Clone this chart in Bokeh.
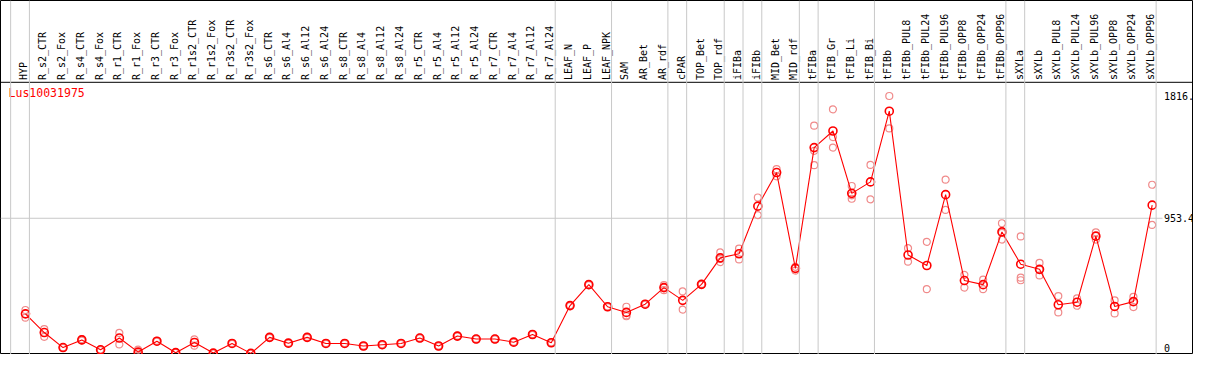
import math
from bokeh.plotting import figure
from bokeh.models import Range1d, Span, ColumnDataSource
from bokeh.core.properties import value
from bokeh.embed import file_html
from bokeh.resources import INLINE

# ---------------- data ----------------
categories = [
    "HYP", "R_s2_CTR", "R_s2_Fox", "R_s4_CTR", "R_s4_Fox", "R_r1_CTR", "R_r1_Fox",
    "R_r3_CTR", "R_r3_Fox", "R_r1s2_CTR", "R_r1s2_Fox", "R_r3s2_CTR", "R_r3s2_Fox",
    "R_s6_CTR", "R_s6_Al4", "R_s6_Al12", "R_s6_Al24", "R_s8_CTR", "R_s8_Al4",
    "R_s8_Al12", "R_s8_Al24", "R_r5_CTR", "R_r5_Al4", "R_r5_Al12", "R_r5_Al24",
    "R_r7_CTR", "R_r7_Al4", "R_r7_Al12", "R_r7_Al24", "LEAF_N", "LEAF_P", "LEAF_NPK",
    "SAM", "AR_Bet", "AR_rdf", "cPAR", "TOP_Bet", "TOP_rdf", "iFIBa", "iFIBb",
    "MID_Bet", "MID_rdf", "tFIBa", "tFIB_Gr", "tFIB_Li", "tFIB_Bi", "tFIBb",
    "tFIBb_PUL8", "tFIBb_PUL24", "tFIBb_PUL96", "tFIBb_OPP8", "tFIBb_OPP24",
    "tFIBb_OPP96", "sXYLa", "sXYLb", "sXYLb_PUL8", "sXYLb_PUL24", "sXYLb_PUL96",
    "sXYLb_OPP8", "sXYLb_OPP24", "sXYLb_OPP96",
]

# group sizes (a grey separator is drawn after each group)
group_sizes = [1, 28, 3, 3, 1, 2, 1, 1, 2, 1, 3, 7, 1, 7]

means = [
    279, 147, 41, 95, 25, 108, 9, 86, 5, 77, 2, 70, 0,
    113, 72, 113, 70, 70, 52, 61, 70, 108, 52, 122, 101, 101, 79, 133, 75,
    337, 485, 329, 289, 347, 464, 374, 487, 674, 703, 1039, 1276, 600,
    1452, 1569, 1129, 1210, 1709, 694, 620, 1120, 514, 485, 857,
    629, 593, 343, 361, 827, 331, 365, 1046,
]

replicates = [
    [306, 252], [171, 117], [43, 38], [100, 90], [27, 22], [144, 63], [27, 0],
    [89, 83], [7, 3], [99, 54], [4, 0], [73, 67], [2, 0],
    [116, 110], [75, 69], [116, 110], [73, 67], [73, 67], [55, 49], [64, 58],
    [73, 67], [111, 105], [55, 49], [125, 119], [104, 98], [104, 98], [82, 76],
    [136, 130], [78, 72],
    [340, 334], [488, 482], [331, 327], [329, 268, 262], [350, 344],
    [482, 446, 464], [437, 309], [490, 484], [712, 644, 666], [739, 663],
    [1100, 976], [1300, 1249], [611, 584], [1607, 1328, 1429],
    [1722, 1452, 1526], [1181, 1091, 1115], [1330, 1087], [1816, 1587],
    [742, 647], [787, 453], [1226, 1012], [554, 464], [521, 453],
    [918, 803, 850], [825, 534, 516], [638, 550, 590], [404, 289], [388, 336],
    [854, 803], [374, 282], [399, 327], [1190, 906],
]

gene_name = "Lus10031975"
axis_labels = ["1816.", "953.4", "0"]
axis_values = [1816, 953.4, 0]

# ---------------- figure ----------------
y_top = max(max(r) for r in replicates) * 1.05  # data area top

p = figure(width=1193, height=354,
           x_range=Range1d(-1.33, 62.2), y_range=Range1d(-8, 2490),
           output_backend="svg", toolbar_location=None, min_border=0,
           x_axis_location=None, y_axis_location=None)
p.grid.visible = False
p.outline_line_color = "black"
p.outline_line_width = 1
p.background_fill_color = "white"
p.border_fill_color = "white"

grey = "#c8c8c8"

# horizontal separators
p.add_layout(Span(location=y_top + 6, dimension="width", line_color="black", line_width=1))
p.segment(x0=[-1.33], y0=[axis_values[1]], x1=[60.55], y1=[axis_values[1]],
          line_color=grey, line_width=1)

# vertical group separators
idx = list(range(len(categories)))
ends = [-1]
acc = -1
for g in group_sizes:
    acc += g
    ends.append(acc)
for e in ends:
    p.add_layout(Span(location=e + 0.21, dimension="height", line_color=grey, line_width=1))

# replicate points
rx, ry = [], []
for i, reps in enumerate(replicates):
    for v in reps:
        rx.append(i)
        ry.append(v)
p.scatter(rx, ry, marker="circle", size=7, fill_color=None,
          line_color="#f08a8a", line_width=1.2)

# mean line + markers
p.line(idx, means, line_color="red", line_width=1.1)
p.scatter(idx, means, marker="circle", size=8, fill_color=None,
          line_color="red", line_width=1.6)

# category labels (rotated)
src = ColumnDataSource(dict(x=idx, y=[y_top + 22] * len(idx), t=categories))
p.text(x="x", y="y", text="t", source=src, angle=math.pi / 2,
       text_align="left", text_baseline="middle", x_offset=-1.5,
       text_font=value("DejaVu Sans Mono"), text_font_size="10px",
       text_color="black")

# gene name
p.text(x=[-0.9], y=[1836], text=[gene_name], text_align="left",
       text_baseline="middle", text_color="red",
       text_font=value("DejaVu Sans Mono"), text_font_size="11.5px")

# right-side value labels
p.text(x=[60.63] * 2, y=axis_values[:2], text=axis_labels[:2], text_align="left",
       text_baseline="middle", text_color="black",
       text_font=value("DejaVu Sans Mono"), text_font_size="10px")
p.text(x=[60.63], y=[axis_values[2]], text=[axis_labels[2]], text_align="left",
       text_baseline="bottom", y_offset=-1, text_color="black",
       text_font=value("DejaVu Sans Mono"), text_font_size="10px")

open("out.html", "w").write(file_html(p, INLINE))
